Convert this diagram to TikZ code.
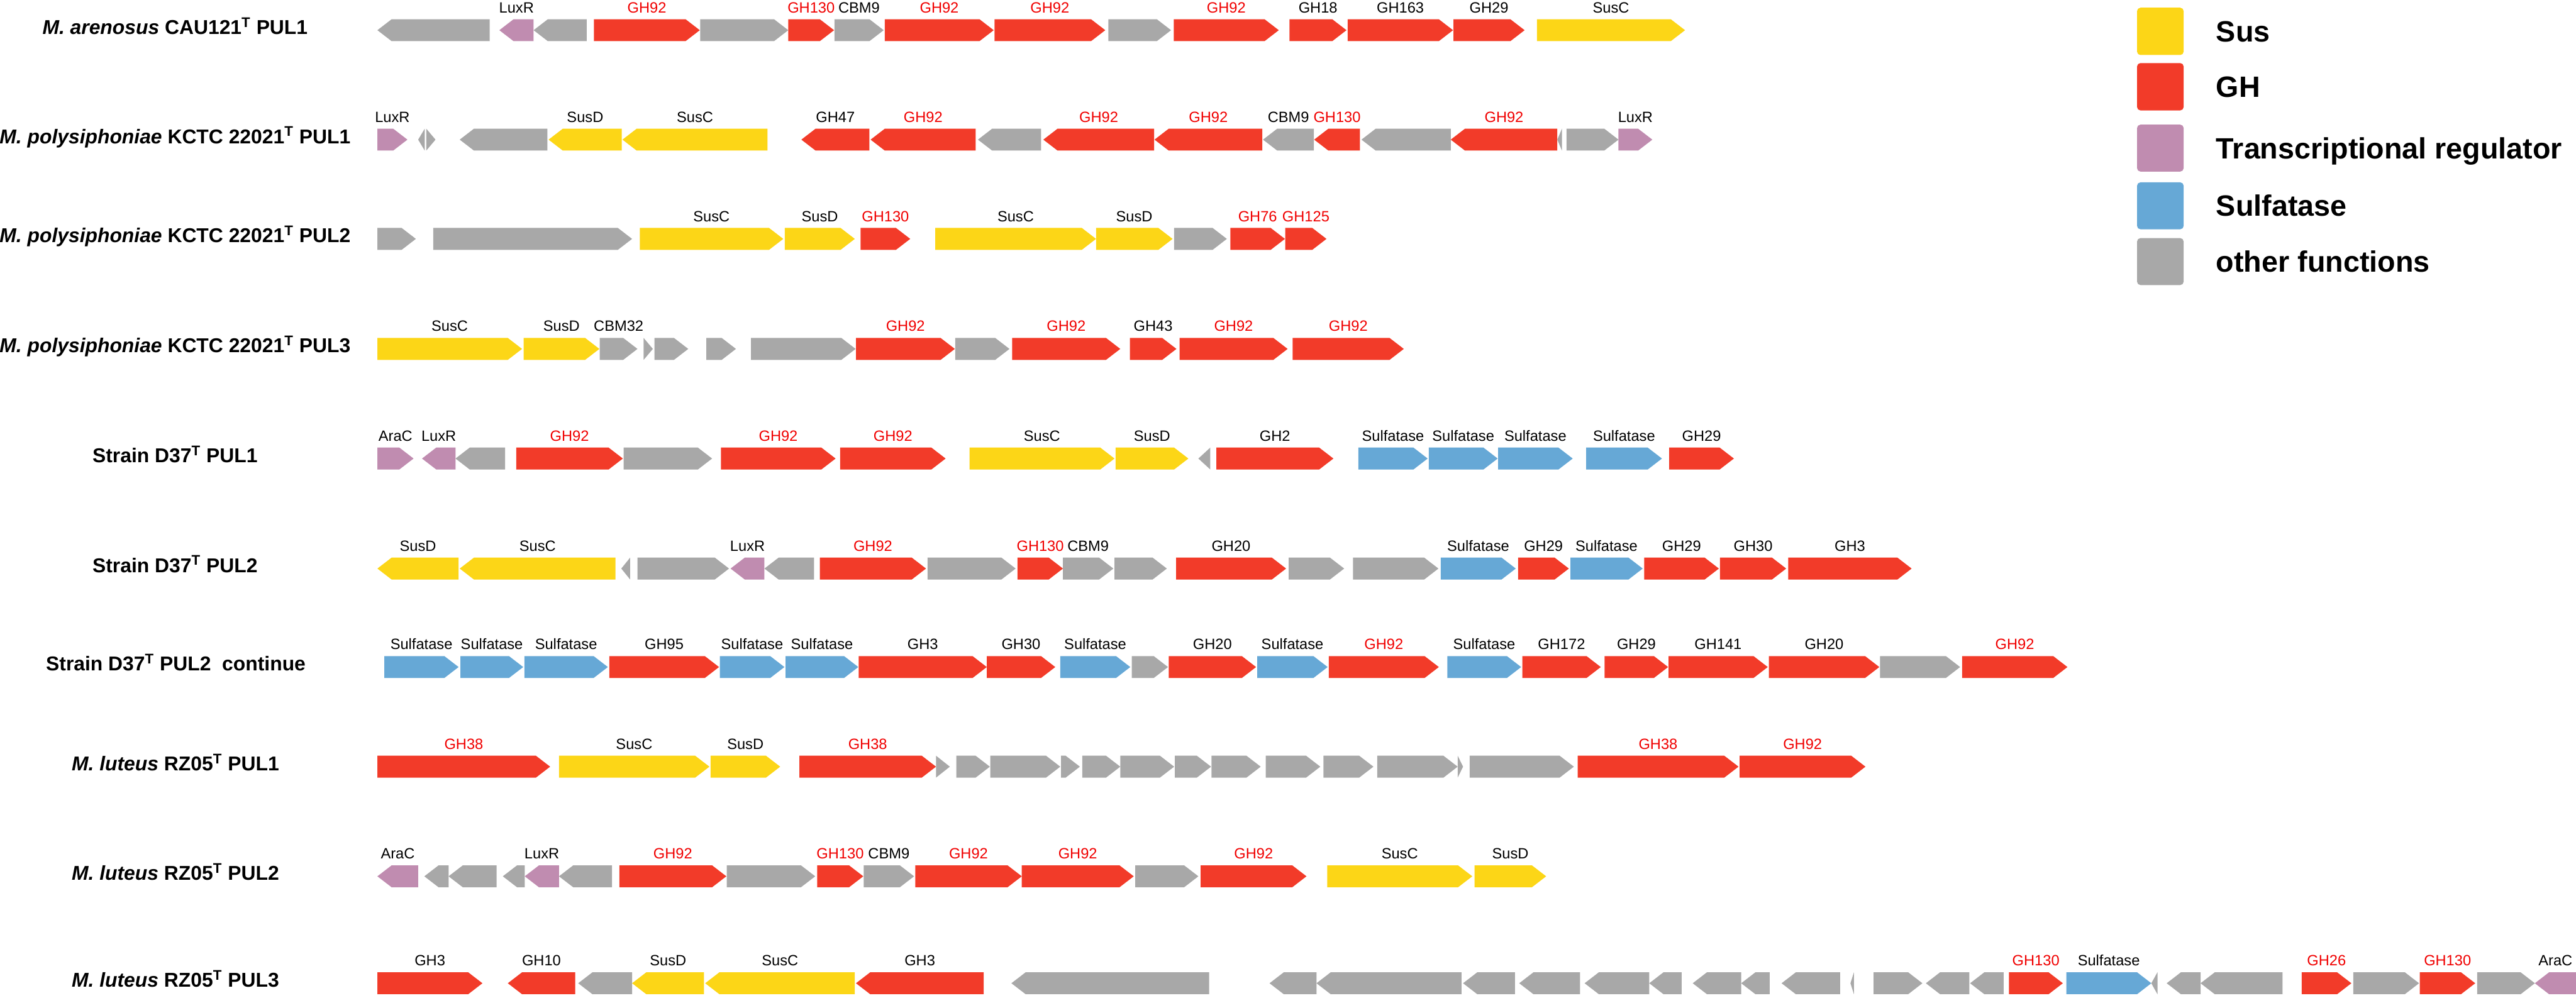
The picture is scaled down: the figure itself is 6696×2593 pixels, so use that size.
\documentclass[tikz,border=0pt]{standalone}
\usepackage{fontspec}
\setmainfont{Liberation Sans}
\usepackage{xcolor}
\definecolor{csus}{RGB}{252, 214, 23}
\definecolor{cgh}{RGB}{242, 59, 41}
\definecolor{creg}{RGB}{192, 140, 176}
\definecolor{csulf}{RGB}{102, 168, 214}
\definecolor{coth}{RGB}{168, 168, 168}
\definecolor{ctxtred}{RGB}{240, 0, 0}
\usepackage{tikz}
\usetikzlibrary{positioning}

% one PUL row: id, centre y, list of start/end/direction/colour/label/label style
\newcommand{\pulrow}[3]{%
  \foreach \xa/\xb/\dir/\col/\lab/\ls in {#3} {
    \pgfmathsetmacro{\hd}{min(37,\xb-\xa)}
    \if r\dir
      \fill[\col] (\xa,#2-28.5) -- (\xb-\hd,#2-28.5) -- (\xb,#2) -- (\xb-\hd,#2+28.5) -- (\xa,#2+28.5) -- cycle;
    \else
      \fill[\col] (\xb,#2-28.5) -- (\xa+\hd,#2-28.5) -- (\xa,#2) -- (\xa+\hd,#2+28.5) -- (\xb,#2+28.5) -- cycle;
    \fi
    \if\relax\detokenize\expandafter{\lab}\relax\else
      \node[\ls] (r#1g\xa) at ({(\xa+\xb)/2},#2-45.5) {\lab};
    \fi
  }
}

\begin{document}
\begin{tikzpicture}[
  x=0.01cm, y=-0.01cm,
  lab/.style={font=\fontsize{11}{13}\selectfont, anchor=base, inner sep=0pt},
  labr/.style={lab, text=ctxtred},
  title/.style={font=\fontsize{14.8}{17}\selectfont\bfseries, anchor=base, inner sep=0pt},
  legbox/.style={rounded corners=2.5pt},
  legtext/.style={font=\fontsize{21.7}{26}\selectfont\bfseries, anchor=base west, inner sep=0pt}
]
\useasboundingbox (0,0) rectangle (6696,2593);

% row titles
\node[title] (t1) at (455,89) {\textit{M. arenosus} CAU121\textsuperscript{T} PUL1};
\node[title] (t2) at (455,373) {\textit{M. polysiphoniae} KCTC 22021\textsuperscript{T} PUL1};
\node[title] (t3) at (455,631) {\textit{M. polysiphoniae} KCTC 22021\textsuperscript{T} PUL2};
\node[title] (t4) at (455,917) {\textit{M. polysiphoniae} KCTC 22021\textsuperscript{T} PUL3};
\node[title] (t5) at (455,1202) {Strain D37\textsuperscript{T} PUL1};
\node[title] (t6) at (455,1488) {Strain D37\textsuperscript{T} PUL2};
\node[title] (t7) at (457,1744) {Strain D37\textsuperscript{T} PUL2~~continue};
\node[title] (t8) at (456,2003) {\textit{M. luteus} RZ05\textsuperscript{T} PUL1};
\node[title] (t9) at (456,2288) {\textit{M. luteus} RZ05\textsuperscript{T} PUL2};
\node[title] (t10) at (456,2566) {\textit{M. luteus} RZ05\textsuperscript{T} PUL3};

% gene clusters
\pulrow{1}{78.5}{981/1273/l/coth//lab, 1298/1387/l/creg/LuxR/lab, 1387/1525/l/coth//lab,
  1544/1819/r/cgh/GH92/labr, 1820/2049/r/coth//lab, 2049/2168/r/cgh/GH130/labr,
  2169/2297/r/coth/CBM9/lab, 2300/2583/r/cgh/GH92/labr, 2585/2873/r/cgh/GH92/labr,
  2881/3044/r/coth//lab, 3051/3324/r/cgh/GH92/labr, 3352/3500/r/cgh/GH18/lab,
  3503/3777/r/cgh/GH163/lab, 3778/3963/r/cgh/GH29/lab, 3995/4380/r/csus/SusC/lab}

\pulrow{2}{363}{981/1059/r/creg/LuxR/lab, 1087/1104/l/coth//lab, 1108/1132/r/coth//lab,
  1195/1423/l/coth//lab, 1426/1616/l/csus/SusD/lab, 1618/1995/l/csus/SusC/lab,
  2083/2260/l/cgh/GH47/lab, 2263/2536/l/cgh/GH92/labr, 2542/2706/l/coth//lab,
  2712/3000/l/cgh/GH92/labr, 3001/3281/l/cgh/GH92/labr, 3283/3415/l/coth/CBM9/lab,
  3416/3535/l/cgh/GH130/labr, 3539/3771/l/coth//lab, 3771/4048/l/cgh/GH92/labr,
  4048/4060/l/coth//lab, 4072/4207/r/coth//lab, 4207/4295/r/creg/LuxR/lab}

\pulrow{3}{621}{981/1081/r/coth//lab, 1126/1643/r/coth//lab, 1663/2036/r/csus/SusC/lab,
  2040/2222/r/csus/SusD/lab, 2237/2366/r/cgh/GH130/labr, 2431/2849/r/csus/SusC/lab,
  2849/3048/r/csus/SusD/lab, 3052/3189/r/coth//lab, 3198/3340/r/cgh/GH76/labr,
  3341/3448/r/cgh/GH125/labr}

\pulrow{4}{907}{981/1357/r/csus/SusC/lab, 1361/1558/r/csus/SusD/lab, 1559/1657/r/coth/CBM32/lab,
  1673/1697/r/coth//lab, 1701/1789/r/coth//lab, 1836/1913/r/coth//lab,
  1952/2224/r/coth//lab, 2225/2482/r/cgh/GH92/labr, 2483/2624/r/coth//lab,
  2631/2912/r/cgh/GH92/labr, 2937/3058/r/cgh/GH43/lab, 3066/3347/r/cgh/GH92/labr,
  3360/3649/r/cgh/GH92/labr}

\pulrow{5}{1192}{981/1075/r/creg/AraC/lab, 1097/1184/l/creg/LuxR/lab, 1184/1313/l/coth//lab,
  1342/1619/r/cgh/GH92/labr, 1621/1851/r/coth//lab, 1874/2172/r/cgh/GH92/labr,
  2184/2458/r/cgh/GH92/labr, 2520/2897/r/csus/SusC/lab, 2900/3089/r/csus/SusD/lab,
  3115/3146/l/coth//lab, 3162/3466/r/cgh/GH2/lab, 3531/3711/r/csulf/Sulfatase/lab,
  3714/3893/r/csulf/Sulfatase/lab, 3894/4088/r/csulf/Sulfatase/lab,
  4123/4320/r/csulf/Sulfatase/lab, 4339/4507/r/cgh/GH29/lab}

\pulrow{6}{1478}{981/1192/l/csus/SusD/lab, 1195/1600/l/csus/SusC/lab, 1615/1638/l/coth//lab,
  1657/1895/r/coth//lab, 1899/1987/l/creg/LuxR/lab, 1987/2116/l/coth//lab,
  2131/2407/r/cgh/GH92/labr, 2411/2640/r/coth//lab, 2645/2763/r/cgh/GH130/labr,
  2763/2894/r/coth/CBM9/lab, 2897/3033/r/coth//lab, 3057/3343/r/cgh/GH20/lab,
  3350/3494/r/coth//lab, 3517/3739/r/coth//lab, 3745/3940/r/csulf/Sulfatase/lab,
  3946/4078/r/cgh/GH29/lab, 4082/4270/r/csulf/Sulfatase/lab, 4274/4468/r/cgh/GH29/lab,
  4471/4643/r/cgh/GH30/lab, 4648/4969/r/cgh/GH3/lab}

\pulrow{7}{1734}{999/1192/r/csulf/Sulfatase/lab, 1197/1360/r/csulf/Sulfatase/lab,
  1363/1580/r/csulf/Sulfatase/lab, 1584/1869/r/cgh/GH95/lab, 1871/2039/r/csulf/Sulfatase/lab,
  2042/2231/r/csulf/Sulfatase/lab, 2232/2565/r/cgh/GH3/lab, 2565/2743/r/cgh/GH30/lab,
  2756/2938/r/csulf/Sulfatase/lab, 2942/3036/r/coth//lab, 3038/3265/r/cgh/GH20/lab,
  3268/3451/r/csulf/Sulfatase/lab, 3454/3740/r/cgh/GH92/labr, 3762/3954/r/csulf/Sulfatase/lab,
  3957/4161/r/cgh/GH172/lab, 4171/4336/r/cgh/GH29/lab, 4337/4595/r/cgh/GH141/lab,
  4598/4885/r/cgh/GH20/lab, 4887/5095/r/coth//lab, 5100/5374/r/cgh/GH92/labr}

\pulrow{8}{1993}{981/1430/r/cgh/GH38/labr, 1453/1844/r/csus/SusC/lab, 1847/2028/r/csus/SusD/lab,
  2078/2433/r/cgh/GH38/labr, 2433/2469/r/coth//lab, 2486/2573/r/coth//lab,
  2574/2756/r/coth//lab, 2758/2807/r/coth//lab, 2813/2912/r/coth//lab,
  2912/3052/r/coth//lab, 3054/3148/r/coth//lab, 3149/3277/r/coth//lab,
  3290/3432/r/coth//lab, 3440/3570/r/coth//lab, 3580/3789/r/coth//lab,
  3789/3803/r/coth//lab, 3820/4091/r/coth//lab, 4101/4519/r/cgh/GH38/labr,
  4522/4849/r/cgh/GH92/labr}

\pulrow{9}{2278}{981/1087/l/creg/AraC/lab, 1103/1166/l/coth//lab, 1166/1291/l/coth//lab,
  1307/1364/l/coth//lab, 1364/1453/l/creg/LuxR/lab, 1453/1591/l/coth//lab,
  1610/1888/r/cgh/GH92/labr, 1889/2119/r/coth//lab, 2124/2244/r/cgh/GH130/labr,
  2245/2376/r/coth/CBM9/lab, 2379/2656/r/cgh/GH92/labr, 2656/2947/r/cgh/GH92/labr,
  2951/3115/r/coth//lab, 3121/3396/r/cgh/GH92/labr, 3450/3827/r/csus/SusC/lab,
  3833/4019/r/csus/SusD/lab}

\pulrow{10}{2556}{981/1254/r/cgh/GH3/lab, 1320/1495/l/cgh/GH10/lab, 1503/1643/l/coth//lab,
  1643/1830/l/csus/SusD/lab, 1833/2222/l/csus/SusC/lab, 2225/2557/l/cgh/GH3/lab,
  2629/3143/l/coth//lab, 3300/3422/l/coth//lab, 3422/3799/l/coth//lab,
  3803/3938/l/coth//lab, 3949/4107/l/coth//lab, 4119/4287/l/coth//lab,
  4287/4371/l/coth//lab, 4400/4526/l/coth//lab, 4526/4600/l/coth//lab,
  4631/4783/l/coth//lab, 4810/4819/l/coth//lab, 4870/4997/r/coth//lab,
  5006/5119/l/coth//lab, 5121/5208/l/coth//lab, 5222/5362/r/cgh/GH130/labr,
  5371/5592/r/csulf/Sulfatase/lab, 5592/5608/l/coth//lab, 5632/5720/l/coth//lab,
  5720/5933/l/coth//lab, 5983/6112/r/cgh/GH26/labr, 6117/6288/r/coth//lab,
  6290/6434/r/cgh/GH130/labr, 6439/6589/r/coth//lab, 6589/6696/l/creg/AraC/lab}

% legend
\fill[csus, legbox] (5555,20) rectangle (5676,143);
\fill[cgh, legbox] (5555,164) rectangle (5676,287);
\fill[creg, legbox] (5555,324) rectangle (5676,446);
\fill[csulf, legbox] (5555,474) rectangle (5676,596);
\fill[coth, legbox] (5555,619) rectangle (5676,741);
\node[legtext] (lsus) at (5760,109) {Sus};
\node[legtext] (lgh) at (5760,253) {GH};
\node[legtext] (lreg) at (5760,412) {Transcriptional regulator};
\node[legtext] (lsulf) at (5760,562) {Sulfatase};
\node[legtext] (loth) at (5760,707) {other functions};
\end{tikzpicture}
\end{document}
